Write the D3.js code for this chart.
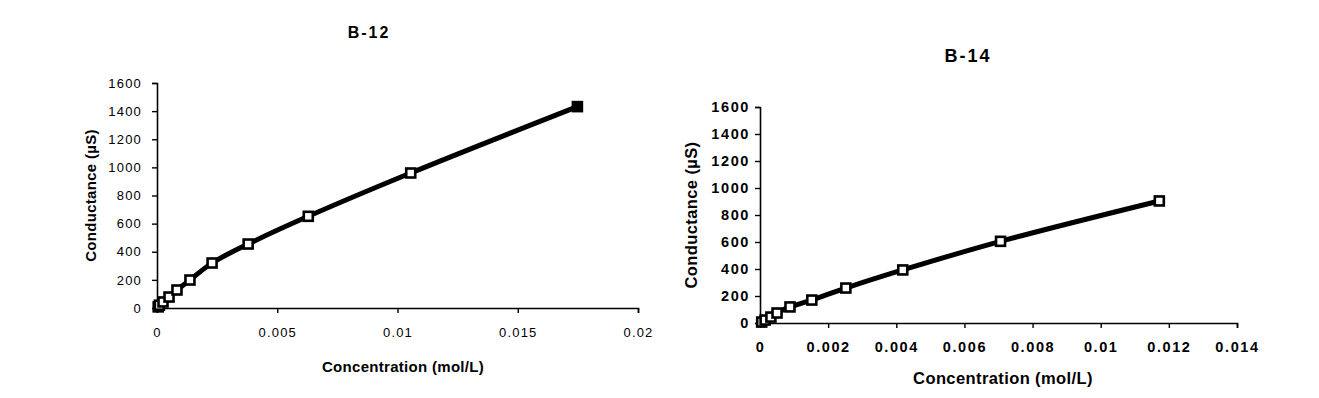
<!DOCTYPE html>
<html>
<head>
<meta charset="utf-8">
<script src="https://cdn.jsdelivr.net/npm/d3@7"></script>
<style>
  body { margin: 0; background: #fff; }
  text { font-family: "Liberation Sans", Arial, Helvetica, sans-serif; fill: #000; }
</style>
</head>
<body>
<div id="chart"></div>
<script>
// B-12: concentration (mol/L) vs conductance (µS)
const b12Conc = [0.00005, 0.0001, 0.00025, 0.0005, 0.00083, 0.00137, 0.00229, 0.00379, 0.00629, 0.01055, 0.01748];
const b12Cond = [8, 20, 43, 78, 128, 199, 320, 455, 652, 960, 1432];

// B-14
const b14Conc = [0.00005, 0.00015, 0.00032, 0.0005, 0.00088, 0.00152, 0.00252, 0.00419, 0.00706, 0.01172];
const b14Cond = [7, 22, 44, 74, 119, 170, 259, 393, 605, 904];

// tick labels
const condTicks = [0, 200, 400, 600, 800, 1000, 1200, 1400, 1600];
const b12ConcTicks = [0, 0.005, 0.01, 0.015, 0.02];
const b14ConcTicks = [0, 0.002, 0.004, 0.006, 0.008, 0.01, 0.012, 0.014];

const xTitle = "Concentration (mol/L)";
const yTitle = "Conductance (µS)";

const W = 1319, H = 398;
const svg = d3.select("#chart").append("svg")
    .attr("width", W)
    .attr("height", H);

// panel layout (pixels)
const panels = [
    {
        name: "B-12", conc: b12Conc, cond: b12Cond, xTicks: b12ConcTicks,
        xMax: 0.02, left: 157, right: 638, top: 83, bottom: 308,
        titleX: 369, titleY: 38, titleSize: 16,
        tickSize: 13, tickWeight: "normal", tickSpacing: 1.2, tickGapY: 15, xTickBase: 337,
        labelSize: 15, labelSpacing: 0.3, xLabelX: 403, xLabelY: 372, yLabelX: 96,
        filledLast: true
    },
    {
        name: "B-14", conc: b14Conc, cond: b14Cond, xTicks: b14ConcTicks,
        xMax: 0.014, left: 760, right: 1237, top: 107, bottom: 323,
        titleX: 968, titleY: 62, titleSize: 18,
        tickSize: 14.5, tickWeight: "bold", tickSpacing: 1.6, tickGapY: 10, xTickBase: 352,
        labelSize: 16.5, labelSpacing: 0.4, xLabelX: 1003, xLabelY: 384, yLabelX: 697,
        filledLast: false
    }
];

panels.forEach(p => drawPanel(p));

function drawPanel(p) {
    const x = d3.scaleLinear().domain([0, p.xMax]).range([p.left, p.right]);
    const y = d3.scaleLinear().domain([0, 1600]).range([p.bottom, p.top]);
    const g = svg.append("g");

    // axes
    const yAxis = g.append("g")
        .attr("transform", `translate(${p.left},0)`)
        .call(d3.axisLeft(y).tickValues(condTicks).tickSize(5).tickSizeOuter(5).tickFormat(d => d));
    const xAxis = g.append("g")
        .attr("transform", `translate(0,${p.bottom})`)
        .call(d3.axisBottom(x).tickValues(p.xTicks).tickSize(5).tickSizeOuter(5).tickFormat(d => String(d)));

    [xAxis, yAxis].forEach(a => {
        a.select(".domain").attr("stroke", "#000").attr("stroke-width", 1.6);
        a.selectAll(".tick line").attr("stroke", "#000").attr("stroke-width", 1.4);
        a.selectAll("text")
            .style("font-size", p.tickSize + "px")
            .style("font-weight", p.tickWeight)
            .style("letter-spacing", p.tickSpacing + "px")
            .attr("fill", "#000");
    });
    yAxis.selectAll(".tick text").attr("x", -p.tickGapY);
    xAxis.selectAll(".tick text")
        .attr("y", p.xTickBase - p.bottom)
        .attr("dy", 0);

    // line
    const pts = p.conc.map((c, i) => [c, p.cond[i]]);
    const line = d3.line()
        .x(d => x(d[0]))
        .y(d => y(d[1]))
        .curve(d3.curveCatmullRom.alpha(0.5));
    g.append("path")
        .datum(pts)
        .attr("d", line)
        .attr("fill", "none")
        .attr("stroke", "#000")
        .attr("stroke-width", 5)
        .attr("stroke-linejoin", "round");

    // markers
    g.selectAll("rect.pt")
        .data(pts)
        .enter().append("rect")
        .attr("class", "pt")
        .attr("x", d => x(d[0]) - 4.5)
        .attr("y", d => y(d[1]) - 4.5)
        .attr("width", 9)
        .attr("height", 9)
        .attr("fill", (d, i) => p.filledLast && i === pts.length - 1 ? "#000" : "#fff")
        .attr("stroke", "#000")
        .attr("stroke-width", 2.6);

    // titles
    g.append("text")
        .attr("x", p.titleX)
        .attr("y", p.titleY)
        .attr("text-anchor", "middle")
        .style("font-size", p.titleSize + "px")
        .style("font-weight", "bold")
        .style("letter-spacing", "2px")
        .text(p.name);

    g.append("text")
        .attr("x", p.xLabelX)
        .attr("y", p.xLabelY)
        .attr("text-anchor", "middle")
        .style("font-size", p.labelSize + "px")
        .style("font-weight", "bold")
        .style("letter-spacing", p.labelSpacing + "px")
        .text(xTitle);

    g.append("text")
        .attr("transform", `translate(${p.yLabelX},${(p.top + p.bottom) / 2}) rotate(-90)`)
        .attr("text-anchor", "middle")
        .style("font-size", p.labelSize + "px")
        .style("font-weight", "bold")
        .style("letter-spacing", p.labelSpacing + "px")
        .text(yTitle);
}
</script>
</body>
</html>
